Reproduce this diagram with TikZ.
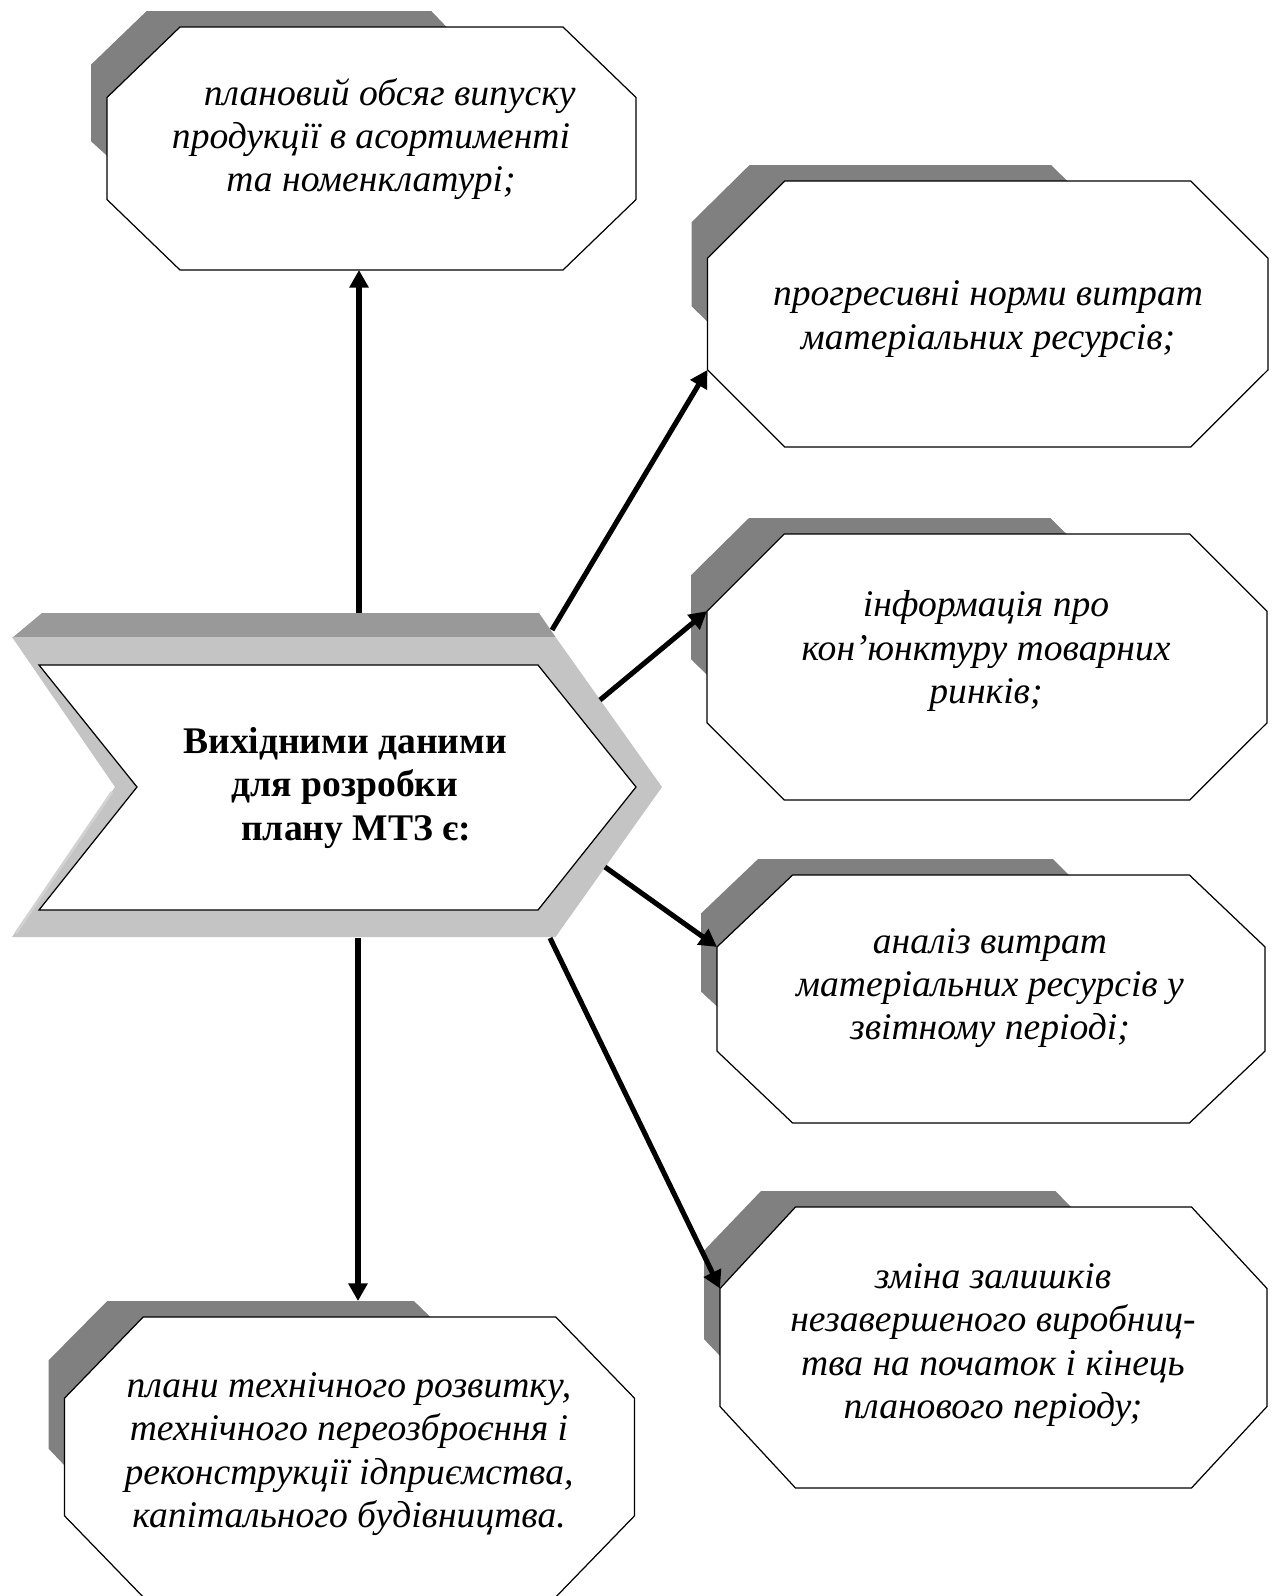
\documentclass[tikz,border=0pt]{standalone}
\usepackage{fontspec}
\setmainfont{Liberation Serif}
\usetikzlibrary{arrows.meta}
\definecolor{boxshade}{HTML}{808080}
\definecolor{bevel}{HTML}{999999}
\definecolor{rim}{HTML}{C4C4C4}
\definecolor{rimlight}{HTML}{D2D2D2}
\tikzset{
  boxshadow/.style={fill=boxshade,draw=none},
  octbox/.style={draw=black,fill=white,line width=0.7pt},
  boxtext/.style={align=center,font=\fontsize{21.4}{24.7}\selectfont\itshape},
  srctext/.style={align=center,font=\fontsize{21.4}{25}\selectfont\bfseries},
  arr/.style={line width=2.9pt,-{Triangle[length=10pt,width=10.5pt]}},
}
% octagon with its shadow: name, left, top, right, bottom
\newcommand{\mtzbox}[5]{%
  \pgfmathsetmacro{\mbw}{#4-#2}%
  \pgfmathsetmacro{\mbh}{#5-#3}%
  \pgfmathsetmacro{\mcx}{0.138*\mbw}%
  \pgfmathsetmacro{\mcy}{0.29*\mbh}%
  \fill[boxshadow] (#2,{#3+0.53*\mbh}) -- ({#2-16},{#3+0.47*\mbh}) -- ({#2-16},{#3+0.155*\mbh})
    -- ({#2+0.075*\mbw},{#3-16}) -- ({#2+0.613*\mbw},{#3-16}) -- ({#2+0.642*\mbw},#3)
    -- ({#2+0.5*\mbw},{#3+0.5*\mbh}) -- cycle;
  \draw[octbox] ({#2+\mcx},#3) -- ({#4-\mcx},#3) -- (#4,{#3+\mcy}) -- (#4,{#5-\mcy})
    -- ({#4-\mcx},#5) -- ({#2+\mcx},#5) -- (#2,{#5-\mcy}) -- (#2,{#3+\mcy}) -- cycle;
  \coordinate (#1-lt) at (#2,{#3+\mcy});
  \coordinate (#1-lb) at (#2,{#5-\mcy});
  \coordinate (#1-b) at (#2,#5);
  \coordinate (#1-sh) at (#2,{#3-16});
}
\begin{document}
\begin{tikzpicture}[x=0.02cm,y=-0.02cm]
  \useasboundingbox (0,0) rectangle (1277,1596);
  % central chevron
  \fill[bevel] (12,638) -- (42,613) -- (539,613) -- (555.5,637) -- cycle;
  \fill[rim] (12,637) -- (555.5,637) -- (662,787) -- (555.5,937) -- (12,937) -- (115,787) -- cycle;
  \draw[rimlight,line width=1.6pt] (112,792) -- (16,933);
  \draw[octbox] (39,665) -- (538,665) -- (636,787) -- (538,910) -- (39,910) -- (137,787) -- cycle;
  \node[srctext] (src) at (345,788) {Вихідними даними\\ для розробки\\ \hspace*{0.6em}плану МТЗ є:};
  \coordinate (src-n) at (359,613);
  \coordinate (src-ne) at (552,630);
  \coordinate (src-e1) at (600,700);
  \coordinate (src-e2) at (605,867);
  \coordinate (src-se) at (550,938);
  \coordinate (src-s) at (358,938);
  % boxes
  \mtzbox{b1}{107}{27}{636}{270}
  \mtzbox{b2}{707.5}{181}{1268}{447}
  \mtzbox{b3}{707}{534}{1267}{800}
  \mtzbox{b4}{717}{875}{1265}{1123}
  \mtzbox{b5}{720}{1207}{1267}{1488}
  \mtzbox{b6}{64.5}{1317}{634.5}{1597}
  \node[boxtext] (out1) at (371,139) {\hspace*{1em}плановий обсяг випуску\\ продукції в асортименті\\ та номенклатурі;};
  \node[boxtext] (out2) at (988,319) {прогресивні норми витрат\\ матеріальних ресурсів;};
  \node[boxtext] (out3) at (986,651) {інформація про\\ кон’юнктуру товарних\\ ринків;};
  \node[boxtext] (out4) at (990,988) {аналіз витрат\\ матеріальних ресурсів у\\ звітному періоді;};
  \node[boxtext] (out5) at (993,1345) {зміна залишків\\ незавершеного виробниц-\\ тва на початок і кінець\\ планового періоду;};
  \node[boxtext] (out6) at (349,1454) {плани технічного розвитку,\\ технічного переозброєння і\\ реконструкції ідприємства,\\ капітального будівництва.};
  % arrows
  \draw[arr] (src-n) -- (src-n |- b1-b);
  \draw[arr] (src-ne) -- (b2-lb);
  \draw[arr] (src-e1) -- (b3-lt);
  \draw[arr] (src-e2) -- (b4-lt);
  \draw[arr] (src-se) -- (b5-lt);
  \draw[arr] (src-s) -- (src-s |- b6-sh);
\end{tikzpicture}
\end{document}
